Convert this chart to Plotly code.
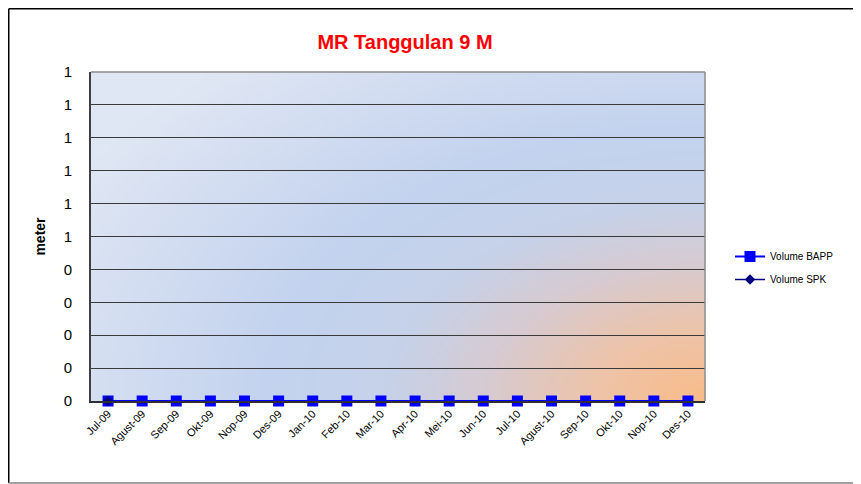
import base64
import struct
import zlib

import numpy as np
import plotly.graph_objects as go

# chart data
months = ["Jul-09", "Agust-09", "Sep-09", "Okt-09", "Nop-09", "Des-09",
          "Jan-10", "Feb-10", "Mar-10", "Apr-10", "Mei-10", "Jun-10",
          "Jul-10", "Agust-10", "Sep-10", "Okt-10", "Nop-10", "Des-10"]
volume_bapp = [0, 0, 0, 0, 0, 0, 0, 0, 0, 0, 0, 0, 0, 0, 0, 0, 0, 0]
volume_spk = [0] + [None] * 17
y_ticks = [0, 0.1, 0.2, 0.3, 0.4, 0.5, 0.6, 0.7, 0.8, 0.9, 1.0]
y_tick_labels = ["0", "0", "0", "0", "0", "1", "1", "1", "1", "1", "1"]

# the page body has an 8px margin, so the figure is sized to fit the window
W, H = 853, 476
L, R, T, B = 83, 156, 64, 83
PW, PH = W - L - R, H - T - B


def px_to_paper(px, py):
    return (px - L) / PW, (H - B - py) / PH


def png_data_uri(rgb):
    h, w, _ = rgb.shape
    raw = b"".join(b"\x00" + rgb[i].astype(np.uint8).tobytes() for i in range(h))

    def chunk(tag, data):
        c = struct.pack(">I", len(data)) + tag + data
        return c + struct.pack(">I", zlib.crc32(tag + data) & 0xFFFFFFFF)

    png = (b"\x89PNG\r\n\x1a\n"
           + chunk(b"IHDR", struct.pack(">IIBBBBB", w, h, 8, 2, 0, 0, 0))
           + chunk(b"IDAT", zlib.compress(raw, 9))
           + chunk(b"IEND", b""))
    return "data:image/png;base64," + base64.b64encode(png).decode()


# plot area background: pale blue -> blue -> peach from the bottom-right corner
gw, gh = 154, 83
gx = np.linspace(0, PW, gw)
gy = np.linspace(0, PH, gh)
XX, YY = np.meshgrid(gx, gy)
dist = np.sqrt((PW - XX) ** 2 + (1.6 * (PH - YY)) ** 2)
stops_d = [0, 110, 220, 320, 430, 720]
stops_c = np.array([[249, 188, 138], [238, 196, 170], [215, 203, 210],
                    [198, 210, 234], [195, 210, 238], [224, 231, 244]])
img = np.stack([np.interp(dist, stops_d, stops_c[:, k]) for k in range(3)], axis=-1)
bg_uri = png_data_uri(np.clip(img, 0, 255))

fig = go.Figure()
fig.add_trace(go.Scatter(
    x=months, y=volume_bapp, name="Volume BAPP", mode="lines+markers",
    line=dict(color="#0000FF", width=2),
    marker=dict(symbol="square", size=11, color="#0000FF"),
    cliponaxis=False, legendgroup="a",
))
fig.add_trace(go.Scatter(
    x=months, y=volume_spk, name="Volume SPK", mode="lines+markers",
    line=dict(color="#000080", width=1.5),
    marker=dict(symbol="diamond", size=8, color="#000080"),
    cliponaxis=False, legendgroup="b",
))

fig.add_layout_image(dict(
    source=bg_uri, xref="x domain", yref="y domain", x=0, y=1,
    sizex=1, sizey=1, sizing="stretch", layer="below",
    xanchor="left", yanchor="top",
))

# plot area top/right border
fig.add_shape(type="line", xref="x domain", yref="y domain", x0=0, x1=1, y0=1, y1=1,
              line=dict(color="#8c8c8c", width=1.5), layer="above")
fig.add_shape(type="line", xref="x domain", yref="y domain", x0=1, x1=1, y0=0, y1=1,
              line=dict(color="#8c8c8c", width=1.5), layer="above")

# outer chart frame
x0, y0 = px_to_paper(0.75, 0.75)
x1, y1 = px_to_paper(W, 475)
fig.add_shape(type="line", xref="paper", yref="paper", x0=x0, x1=x0, y0=y1, y1=y0,
              line=dict(color="#000000", width=1.5))
fig.add_shape(type="line", xref="paper", yref="paper", x0=x0, x1=x1, y0=y0, y1=y0,
              line=dict(color="#000000", width=1.5))
fig.add_shape(type="line", xref="paper", yref="paper", x0=x0, x1=x1, y0=y1, y1=y1,
              line=dict(color="#a0a0a0", width=2))

tx, ty = px_to_paper(397, 34)
fig.update_layout(
    width=W, height=H,
    margin=dict(l=L, r=R, t=T, b=B),
    paper_bgcolor="white",
    plot_bgcolor="#d0dbf0",
    font=dict(family="Arial, Liberation Sans, sans-serif", color="black"),
    title=dict(text="<b>MR Tanggulan 9 M</b>", x=tx, y=1 - 34 / H, xref="paper",
               xanchor="center", yanchor="middle",
               font=dict(size=20, color="#FF0000")),
    legend=dict(x=px_to_paper(722, 0)[0], y=px_to_paper(0, 260)[1],
                xanchor="left", yanchor="middle",
                font=dict(size=10), tracegroupgap=4, traceorder="grouped",
                bgcolor="rgba(0,0,0,0)"),
    showlegend=True,
)
fig.update_xaxes(
    type="category", range=[-0.5, len(months) - 0.5],
    tickangle=-45, tickfont=dict(size=11),
    showgrid=False, showline=True, linecolor="#303030", linewidth=2,
    ticks="", zeroline=False,
)
fig.update_yaxes(
    range=[0, 1], tickvals=y_ticks, ticktext=y_tick_labels,
    tickfont=dict(size=15), ticks="outside", ticklen=14,
    tickcolor="rgba(0,0,0,0)",
    showgrid=True, gridcolor="#3a3a3a", gridwidth=1,
    showline=True, linecolor="#404040", linewidth=2, zeroline=False,
    title=dict(text="<b>meter</b>", font=dict(size=14), standoff=15),
)

fig.write_html("out.html")
